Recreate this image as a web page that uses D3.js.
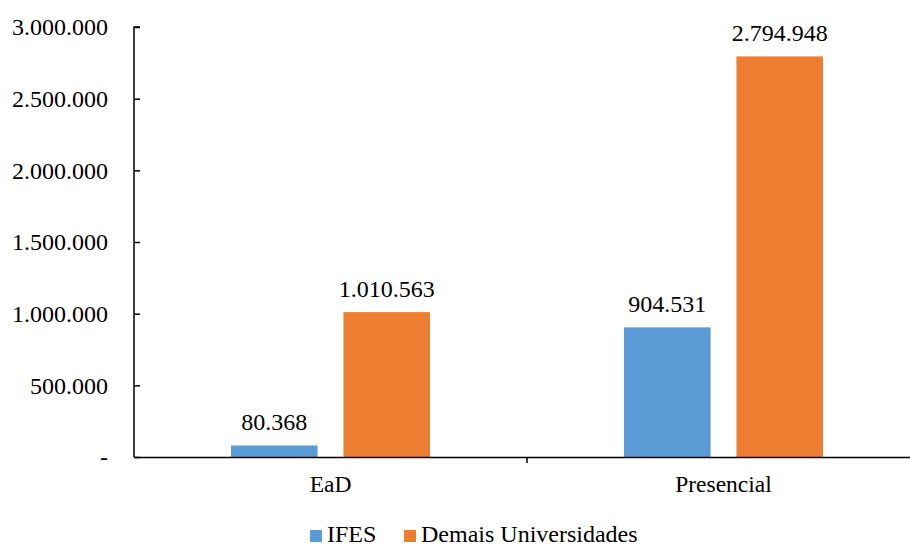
<!DOCTYPE html>
<html>
<head>
<meta charset="utf-8">
<script src="https://cdn.jsdelivr.net/npm/d3@7"></script>
<style>
  body { margin: 0; background: #fff; }
  svg text { font-family: "Liberation Serif", Tinos, "Times New Roman", Times, "DejaVu Serif", serif; fill: #000; }
</style>
</head>
<body>
<svg id="chart" width="910" height="547"></svg>
<script>
// Data
const categories = ['EaD', 'Presencial'];
const seriesNames = ['IFES', 'Demais Universidades'];
const ifesValues = [80368, 904531];
const demaisValues = [1010563, 2794948];
const yTicks = [0, 500000, 1000000, 1500000, 2000000, 2500000, 3000000];

const colors = ['#5B9BD5', '#ED7D31'];
const serif = '"Liberation Serif", Tinos, "Times New Roman", Times, "DejaVu Serif", serif';
const margin = {top: 27, right: -10, bottom: 90, left: 134};
const width = 910 - margin.left - margin.right;
const height = 547 - margin.top - margin.bottom;

const fmt = d => d === 0 ? '-' : d3.format(',')(d).replace(/,/g, '.');

const data = categories.map((c, i) => ({category: c, values: [ifesValues[i], demaisValues[i]]}));

const svg = d3.select('#chart')
    .attr('font-family', serif);
const chart = svg.append('g')
    .attr('transform', `translate(${margin.left},${margin.top})`);

const xScale = d3.scaleBand()
    .domain(categories)
    .range([0, width]);

const xInner = d3.scaleBand()
    .domain(seriesNames)
    .range([97, 296])
    .paddingInner(0.23);

const yScale = d3.scaleLinear()
    .domain([0, 3000000])
    .range([height, 0]);

// y axis (ticks drawn inward, like the original)
const yAxisG = chart.append('g')
    .call(d3.axisRight(yScale).tickValues(yTicks).tickSize(6).tickFormat(''));
yAxisG.select('.domain').attr('d', `M6,0H0V${height}`).attr('stroke', '#000').attr('stroke-width', 1.5);
yAxisG.selectAll('.tick line').attr('stroke', '#000').attr('stroke-width', 1.5);

chart.selectAll('.y-label')
    .data(yTicks)
  .join('text')
    .attr('class', 'y-label')
    .attr('x', -26)
    .attr('y', d => yScale(d))
    .attr('dy', '0.35em')
    .attr('text-anchor', 'end')
    .style('font-family', serif)
    .style('font-size', '24px')
    .text(fmt);

// bars
const groups = chart.selectAll('.group')
    .data(data)
  .join('g')
    .attr('class', 'group')
    .attr('transform', d => `translate(${xScale(d.category)},0)`);

groups.selectAll('rect')
    .data(d => d.values.map((v, j) => ({name: seriesNames[j], value: v, j})))
  .join('rect')
    .attr('x', d => xInner(d.name))
    .attr('y', d => yScale(d.value))
    .attr('width', xInner.bandwidth())
    .attr('height', d => height - yScale(d.value))
    .attr('fill', d => colors[d.j]);

groups.selectAll('.value-label')
    .data(d => d.values.map((v, j) => ({name: seriesNames[j], value: v})))
  .join('text')
    .attr('class', 'value-label')
    .attr('x', d => xInner(d.name) + xInner.bandwidth() / 2)
    .attr('y', d => yScale(d.value) - 15)
    .attr('text-anchor', 'middle')
    .style('font-family', serif)
    .style('font-size', '24px')
    .text(d => fmt(d.value));

// x axis
const xAxisG = chart.append('g')
    .attr('transform', `translate(0,${height})`)
    .call(d3.axisBottom(xScale).tickSize(0).tickPadding(18));
xAxisG.attr('font-family', serif);
xAxisG.select('.domain').attr('stroke', '#000').attr('stroke-width', 1.5);
xAxisG.selectAll('.tick text')
    .style('font-size', '23.5px')
    .style('font-family', serif);

// divider tick between categories
chart.append('line')
    .attr('x1', xScale('Presencial')).attr('x2', xScale('Presencial'))
    .attr('y1', height).attr('y2', height + 6)
    .attr('stroke', '#000').attr('stroke-width', 1.5);

// legend
const legend = svg.append('g')
    .attr('transform', 'translate(310,535)');
const legendX = [0, 94];
const items = legend.selectAll('.legend-item')
    .data(seriesNames)
  .join('g')
    .attr('class', 'legend-item')
    .attr('transform', (d, i) => `translate(${legendX[i]},0)`);
items.append('rect')
    .attr('x', 0).attr('y', -5)
    .attr('width', 12).attr('height', 12)
    .attr('fill', (d, i) => colors[i]);
items.append('text')
    .attr('x', 17)
    .attr('dy', '0.3em')
    .style('font-family', serif)
    .style('font-size', '24px')
    .text(d => d);
</script>
</body>
</html>
